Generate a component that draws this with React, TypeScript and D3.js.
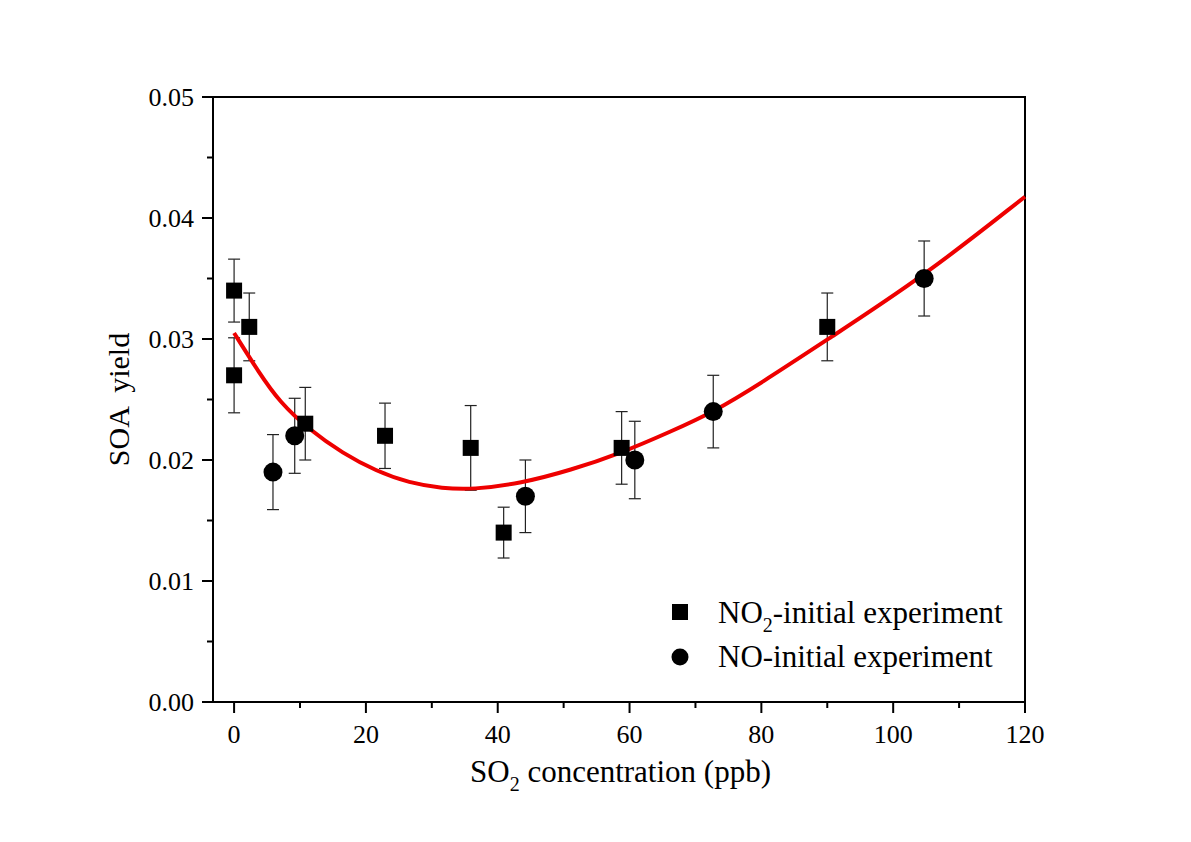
import React from "react";
import * as d3 from "d3";

// NO2-initial experiment (squares)
const no2X = [0, 0, 2.3, 10.8, 22.9, 35.9, 40.9, 58.8, 90.0];
const no2Y = [0.034, 0.027, 0.031, 0.023, 0.022, 0.021, 0.014, 0.021, 0.031];
const no2Err = [0.0026, 0.0031, 0.0028, 0.003, 0.0027, 0.0035, 0.0021, 0.003, 0.0028];

// NO-initial experiment (circles)
const noX = [5.9, 9.2, 44.2, 60.8, 72.7, 104.7];
const noY = [0.019, 0.022, 0.017, 0.02, 0.024, 0.035];
const noErr = [0.0031, 0.0031, 0.003, 0.0032, 0.003, 0.0031];

// Fitted curve
const fitX = [0, 3.8, 6.9, 11.4, 16.5, 21.5, 26.6, 31.6, 36.2, 43.5, 51.1, 58.6, 66.2, 72.8, 79.8, 90.0, 104.7, 120];
const fitY = [0.0305, 0.0272, 0.0248, 0.0225, 0.02055, 0.0191, 0.0181, 0.01766, 0.01755, 0.01807, 0.01917, 0.02055, 0.02234, 0.02399, 0.0263, 0.02995, 0.0352, 0.04176];

const xTicks = [0, 20, 40, 60, 80, 100, 120];
const yTicks = [0, 0.01, 0.02, 0.03, 0.04, 0.05];
const xMinor = [10, 30, 50, 70, 90, 110];
const yMinor = [0.005, 0.015, 0.025, 0.035, 0.045];

const FONT = "'Liberation Serif', 'Times New Roman', serif";

export default function App() {
  const W = 1191, H = 842;
  const left = 213, right = 1025, top = 97, bottom = 702;
  const x = d3.scaleLinear().domain([-3.2, 120]).range([left, right]);
  const y = d3.scaleLinear().domain([0, 0.05]).range([bottom, top]);

  const fitLine = d3
    .line<number>()
    .x((_, i) => x(fitX[i]))
    .y((d) => y(d))
    .curve(d3.curveBasis)(fitY) as string;

  const cap = 6;
  const errBars = (xs: number[], ys: number[], es: number[], key: string) =>
    xs.map((xv, i) => {
      const cx = x(xv);
      const y1 = y(ys[i] + es[i]);
      const y2 = y(ys[i] - es[i]);
      return (
        <g key={key + i} stroke="#222" strokeWidth={1.2}>
          <line x1={cx} x2={cx} y1={y1} y2={y2} />
          <line x1={cx - cap} x2={cx + cap} y1={y1} y2={y1} />
          <line x1={cx - cap} x2={cx + cap} y1={y2} y2={y2} />
        </g>
      );
    });

  const sq = 16;
  return (
    <div style={{ position: "absolute", left: 0, top: 0 }}>
      <svg width={W} height={H} style={{ display: "block", background: "#fff" }}>
        <rect x={left} y={top} width={right - left} height={bottom - top} fill="none" stroke="#000" strokeWidth={2} />
        {xTicks.map((t) => (
          <g key={"xt" + t}>
            <line x1={x(t)} x2={x(t)} y1={bottom} y2={bottom + 11} stroke="#000" strokeWidth={2} />
            <text x={x(t)} y={743} textAnchor="middle" fontFamily={FONT} fontSize={26}>
              {t}
            </text>
          </g>
        ))}
        {xMinor.map((t) => (
          <line key={"xm" + t} x1={x(t)} x2={x(t)} y1={bottom} y2={bottom + 6} stroke="#000" strokeWidth={2} />
        ))}
        {yTicks.map((t) => (
          <g key={"yt" + t}>
            <line x1={left} x2={left - 11} y1={y(t)} y2={y(t)} stroke="#000" strokeWidth={2} />
            <text x={194} y={y(t) + 9} textAnchor="end" fontFamily={FONT} fontSize={26}>
              {t.toFixed(2)}
            </text>
          </g>
        ))}
        {yMinor.map((t) => (
          <line key={"ym" + t} x1={left} x2={left - 6} y1={y(t)} y2={y(t)} stroke="#000" strokeWidth={2} />
        ))}

        {errBars(no2X, no2Y, no2Err, "e1")}
        {errBars(noX, noY, noErr, "e2")}

        <path d={fitLine} fill="none" stroke="#ee0000" strokeWidth={4} />

        {no2X.map((xv, i) => (
          <rect key={"s" + i} x={x(xv) - sq / 2} y={y(no2Y[i]) - sq / 2} width={sq} height={sq} fill="#000" />
        ))}
        {noX.map((xv, i) => (
          <circle key={"c" + i} cx={x(xv)} cy={y(noY[i])} r={9.5} fill="#000" />
        ))}

        {/* legend */}
        <rect x={672} y={604} width={16} height={16} fill="#000" />
        <text x={718} y={623} fontFamily={FONT} fontSize={31}>
          NO
          <tspan fontSize={20} dy={9}>2</tspan>
          <tspan dy={-9}>-initial experiment</tspan>
        </text>
        <circle cx={680} cy={657} r={8.5} fill="#000" />
        <text x={718} y={667} fontFamily={FONT} fontSize={31}>
          NO-initial experiment
        </text>

        <text x={470} y={782} fontFamily={FONT} fontSize={31}>
          SO
          <tspan fontSize={20} dy={9}>2</tspan>
          <tspan dy={-9}> concentration (ppb)</tspan>
        </text>
        <text
          transform={`translate(129, ${(top + bottom) / 2}) rotate(-90)`}
          textAnchor="middle"
          fontFamily={FONT}
          fontSize={30}
          style={{ whiteSpace: "pre" }}
        >
          {"SOA  yield"}
        </text>
      </svg>
    </div>
  );
}
